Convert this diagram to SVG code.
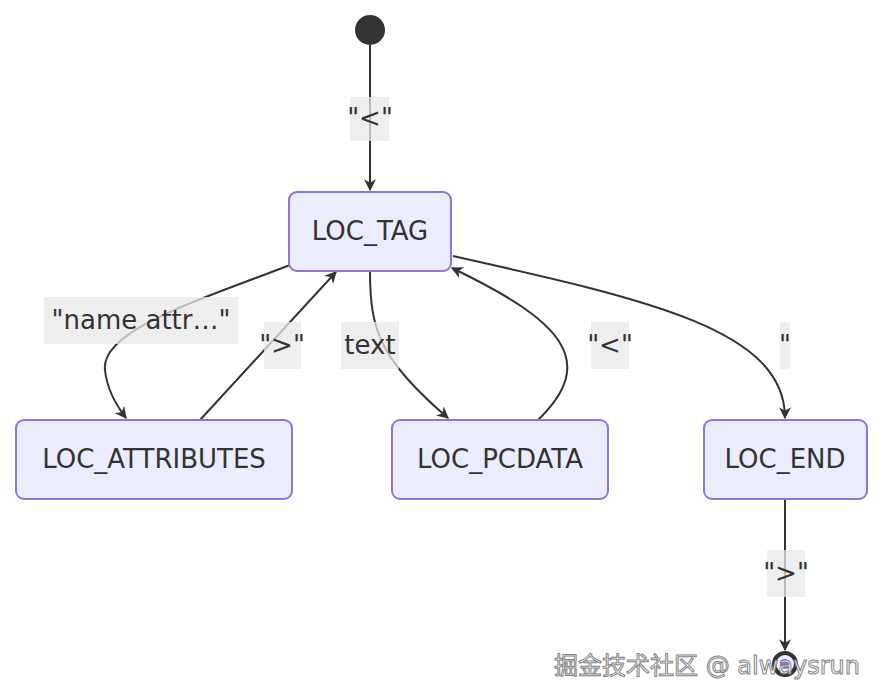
<svg xmlns="http://www.w3.org/2000/svg" width="883" height="692" viewBox="0 0 883 692">
<style>
.node rect{fill:#ECECFF;stroke:#9370DB;stroke-width:2}
text{font-family:"DejaVu Sans","Noto Sans CJK SC",sans-serif;fill:#333}
.nt{font-size:26px;text-anchor:middle;dominant-baseline:central}
.edge{fill:none;stroke:#333;stroke-width:2;marker-end:url(#arr)}
.lb rect{fill:#e8e8e8;opacity:0.75}
.lb text{font-size:26px;text-anchor:middle;dominant-baseline:central}
</style>
<defs>
<marker id="arr" viewBox="0 0 20 20" refX="18" refY="10" markerWidth="12" markerHeight="12" markerUnits="userSpaceOnUse" orient="auto">
<path d="M0,0 L20,10 L0,20 L6,10 Z" fill="#333"/>
</marker>
</defs>
<rect width="883" height="692" fill="#fff"/>
<g id="connectors">
<path class="edge" d="M370,45 L370,190"/>
<path class="edge" d="M290,265 C200,300 100,330 105,370 C107,390 116,405 126,418"/>
<path class="edge" d="M200,420 L336,272"/>
<path class="edge" d="M370,272 C370,330 380,360 448,418"/>
<path class="edge" d="M538,420 C600,360 560,320 452,268"/>
<path class="edge" d="M453,256 C650,300 785,330 785,418"/>
<path class="edge" d="M785,500 L785,650"/>
</g>
<g id="labels">
<g class="lb"><rect x="350" y="97" width="39" height="44"/><text x="370" y="118">"&lt;"</text></g>
<g class="lb"><rect x="44" y="297" width="194" height="47"/><text x="141" y="320">"name attr…"</text></g>
<g class="lb"><rect x="264" y="322" width="37" height="47"/><text x="282" y="345">"&gt;"</text></g>
<g class="lb"><rect x="341" y="322" width="58" height="47"/><text x="370" y="345">text</text></g>
<g class="lb"><rect x="591" y="322" width="38" height="47"/><text x="610" y="345">"&lt;"</text></g>
<g class="lb"><rect x="780" y="322" width="10" height="47"/><text x="785" y="345">"</text></g>
<g class="lb"><rect x="767" y="550" width="38" height="47"/><text x="786" y="573">"&gt;"</text></g>
</g>
<g id="start"><circle cx="370" cy="30" r="15" fill="#333"/></g>
<g id="LOC_TAG" class="node"><rect x="289" y="192" width="162" height="79" rx="8"/><text class="nt" x="370" y="231">LOC_TAG</text></g>
<g id="LOC_ATTRIBUTES" class="node"><rect x="16" y="420" width="276" height="79" rx="8"/><text class="nt" x="154" y="459">LOC_ATTRIBUTES</text></g>
<g id="LOC_PCDATA" class="node"><rect x="392" y="420" width="216" height="79" rx="8"/><text class="nt" x="500" y="459">LOC_PCDATA</text></g>
<g id="LOC_END" class="node"><rect x="704" y="420" width="163" height="79" rx="8"/><text class="nt" x="785" y="459">LOC_END</text></g>
<g id="end"><circle cx="785" cy="664" r="11" fill="#ECECFF" stroke="#333" stroke-width="4"/><circle cx="785" cy="664" r="5" fill="#9370DB"/></g>
<text x="707" y="666" font-size="24" text-anchor="middle" style="fill:#fff;stroke:#777;stroke-width:1;dominant-baseline:central" opacity="0.9">掘金技术社区 @ alwaysrun</text>
</svg>
